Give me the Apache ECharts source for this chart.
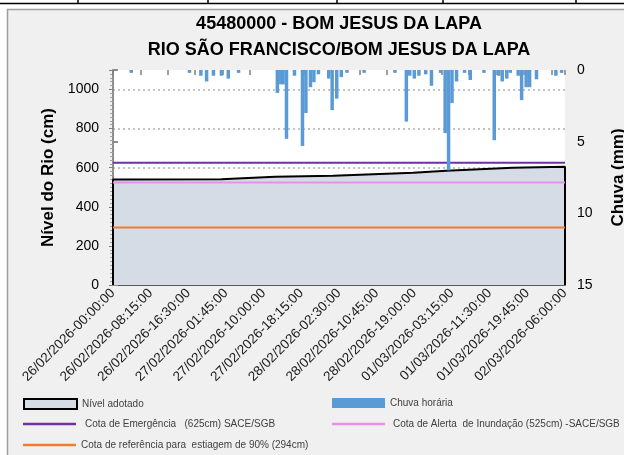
<!DOCTYPE html>
<html>
<head>
<meta charset="utf-8">
<script src="https://cdn.jsdelivr.net/npm/echarts@6/dist/echarts.min.js"></script>
<style>
  html, body { margin: 0; padding: 0; background: #fff; }
  #chart { width: 624px; height: 455px; }
</style>
</head>
<body>
<div id="chart"></div>
<script>
// rótulos do eixo x (um a cada 33 leituras de 15 min)
const xLabels = [
  '26/02/2026-00:00:00', '26/02/2026-08:15:00', '26/02/2026-16:30:00',
  '27/02/2026-01:45:00', '27/02/2026-10:00:00', '27/02/2026-18:15:00',
  '28/02/2026-02:30:00', '28/02/2026-10:45:00', '28/02/2026-19:00:00',
  '01/03/2026-03:15:00', '01/03/2026-11:30:00', '01/03/2026-19:45:00',
  '02/03/2026-06:00:00'
]
const labelStep = 33
const lastIdx = 396

// nível adotado (cm) - posição da leitura e valor
const levelIdx = [0, 95, 142, 193, 263, 292, 350, 396]
const levelCm = [540, 541, 554, 559, 574, 585, 600, 605]

// chuva horária (mm)
const rainIdx = [16, 67, 77, 82, 88, 95, 101, 110, 144, 147, 149, 152, 159, 166, 169, 173, 176, 180,
  189, 192, 196, 200, 205, 220, 247, 257, 260, 264, 268, 274, 279, 287, 291, 294, 297, 301,
  308, 313, 325, 334, 338, 341, 345, 348, 355, 358, 362, 365, 371, 388, 393]
const rainMm = [0.2, 0.2, 0.4, 0.8, 0.4, 0.4, 0.6, 0.2, 1.6, 1.0, 1.0, 4.8, 0.4, 5.3, 3.0, 1.2, 0.85, 0.3,
  0.6, 2.8, 2.0, 0.5, 0.2, 0.2, 0.2, 3.6, 0.4, 0.6, 0.4, 0.3, 1.1, 0.2, 4.4, 7.0, 2.3, 0.8,
  0.2, 0.7, 0.2, 4.9, 0.4, 0.8, 0.6, 0.2, 0.4, 2.1, 1.2, 1.2, 0.65, 0.4, 0.2]

// cotas de referência (cm)
const cotaEmergencia = 625
const cotaAlerta = 525
const cotaEstiagem = 294

const nomeNivel = 'Nível adotado'
const nomeChuva = 'Chuva horária'
const nomeEmerg = 'Cota de Emergência   (625cm) SACE/SGB'
const nomeAlerta = 'Cota de Alerta  de Inundação (525cm) -SACE/SGB'
const nomeEstiagem = 'Cota de referência para  estiagem de 90% (294cm)'

const levelData = [[levelIdx[0], 0]]
levelIdx.forEach((v, i) => levelData.push([v, levelCm[i]]))
levelData.push([levelIdx[levelIdx.length - 1], 0])
const rainData = rainIdx.map((v, i) => [v, rainMm[i]])
const hLine = v => [[0, v], [lastIdx, v]]

const chart = echarts.init(document.getElementById('chart'))
const baseFont = 'Liberation Sans'
const legendText = { fontFamily: baseFont, fontSize: 10, color: '#404040' }
const tableLine = { stroke: '#000', lineWidth: 1.5 }

const option = {
  backgroundColor: '#f0f0f0',
  animation: false,
  graphic: [
    { type: 'rect', shape: { x: 0, y: 0, width: 624, height: 9 }, style: { fill: '#fff' } },
    { type: 'rect', shape: { x: 0, y: 0, width: 7, height: 455 }, style: { fill: '#fff' } },
    { type: 'line', shape: { x1: 0, y1: 3.5, x2: 624, y2: 3.5 }, style: tableLine },
    { type: 'line', shape: { x1: 78, y1: 0, x2: 78, y2: 3.5 }, style: tableLine },
    { type: 'line', shape: { x1: 208, y1: 0, x2: 208, y2: 3.5 }, style: tableLine },
    { type: 'line', shape: { x1: 337, y1: 0, x2: 337, y2: 3.5 }, style: tableLine },
    { type: 'line', shape: { x1: 443, y1: 0, x2: 443, y2: 3.5 }, style: tableLine },
    { type: 'line', shape: { x1: 576, y1: 0, x2: 576, y2: 3.5 }, style: tableLine },
    { type: 'line', shape: { x1: 7, y1: 9.5, x2: 624, y2: 9.5 }, style: { stroke: '#9e9e9e', lineWidth: 1.5 } },
    { type: 'line', shape: { x1: 7.5, y1: 9, x2: 7.5, y2: 455 }, style: { stroke: '#9e9e9e', lineWidth: 1.5 } },
    {
      type: 'text', x: 339, y: 24,
      style: { text: '45480000 - BOM JESUS DA LAPA', align: 'center', verticalAlign: 'middle',
        fontFamily: baseFont, fontWeight: 'bold', fontSize: 18, fill: '#000' }
    },
    {
      type: 'text', x: 339, y: 50,
      style: { text: 'RIO SÃO FRANCISCO/BOM JESUS DA LAPA', align: 'center', verticalAlign: 'middle',
        fontFamily: baseFont, fontWeight: 'bold', fontSize: 18, fill: '#000' }
    }
  ],
  grid: {
    left: 113, right: 59, top: 70, bottom: 170,
    outerBoundsMode: 'none', containLabel: false,
    show: true, backgroundColor: '#fff', borderWidth: 0
  },
  legend: [
    {
      left: 18, top: 393, itemWidth: 53, itemHeight: 10, selectedMode: false, textStyle: legendText,
      data: [{ name: nomeNivel, icon: 'rect', itemStyle: { color: '#d6dce5', borderColor: '#000', borderWidth: 2 } }]
    },
    {
      left: 327, top: 393, itemWidth: 53, itemHeight: 10, selectedMode: false, textStyle: legendText,
      data: [{ name: nomeChuva, icon: 'rect' }]
    },
    {
      left: 18, top: 414, itemWidth: 53, itemHeight: 2.5, selectedMode: false,
      textStyle: Object.assign({ padding: [0, 0, 0, 4] }, legendText),
      data: [{ name: nomeEmerg, icon: 'rect' }]
    },
    {
      left: 327, top: 414, itemWidth: 53, itemHeight: 2.5, selectedMode: false,
      textStyle: Object.assign({ padding: [0, 0, 0, 3] }, legendText),
      data: [{ name: nomeAlerta, icon: 'rect' }]
    },
    {
      left: 18, top: 435, itemWidth: 53, itemHeight: 2.5, selectedMode: false, textStyle: legendText,
      data: [{ name: nomeEstiagem, icon: 'rect' }]
    }
  ],
  xAxis: [
    {
      type: 'value', min: 0, max: lastIdx, interval: labelStep,
      axisLine: { lineStyle: { color: '#595959', width: 2 } },
      axisTick: { show: false },
      splitLine: { show: false },
      axisLabel: {
        rotate: 45, margin: 6, fontFamily: baseFont, fontSize: 13.5, color: '#1a1a1a',
        formatter: v => xLabels[Math.round(v / labelStep)] || ''
      }
    },
    {
      // só as marcas do eixo (a cada 24 leituras)
      type: 'value', min: 0, max: lastIdx, interval: 24, position: 'bottom',
      axisLine: { show: false },
      axisTick: { show: true, length: 5, lineStyle: { color: '#808080', width: 1.5 } },
      axisLabel: { show: false },
      splitLine: { show: false }
    }
  ],
  yAxis: [
    {
      type: 'value', min: 0, max: 1100, interval: 200,
      name: 'Nível do Rio (cm)', nameLocation: 'middle', nameRotate: 90, nameGap: 54,
      nameTextStyle: { fontFamily: baseFont, fontWeight: 'bold', fontSize: 17, color: '#000' },
      axisLine: { show: true, lineStyle: { color: '#b0b0b0', width: 1.5 } },
      axisTick: { show: true, length: 4, lineStyle: { color: '#808080' } },
      minorTick: { show: true, splitNumber: 10, length: 3, lineStyle: { color: '#a0a0a0' } },
      axisLabel: { fontFamily: baseFont, fontSize: 14, color: '#000', margin: 14, showMaxLabel: false,
        formatter: v => String(v) },
      splitLine: { show: true, showMaxLine: false, lineStyle: { color: '#c4c4c4', width: 2, type: [2, 3] } }
    },
    {
      type: 'value', min: 0, max: 15, interval: 5, inverse: true, position: 'right',
      name: 'Chuva (mm)', nameLocation: 'middle', nameRotate: 90, nameGap: 45,
      nameTextStyle: { fontFamily: baseFont, fontWeight: 'bold', fontSize: 17, color: '#000' },
      axisLine: { show: true, lineStyle: { color: '#8c8c8c', width: 2 } },
      axisTick: { show: true, length: 5, lineStyle: { color: '#8c8c8c', width: 2 } },
      axisLabel: { fontFamily: baseFont, fontSize: 14, color: '#000', margin: 12 },
      splitLine: { show: false }
    }
  ],
  series: [
    {
      name: nomeNivel, type: 'line', xAxisIndex: 0, yAxisIndex: 0, data: levelData,
      symbol: 'none', z: 2,
      lineStyle: { color: '#000', width: 2 },
      itemStyle: { color: '#d6dce5' },
      areaStyle: { color: '#d6dce5', opacity: 1 }
    },
    {
      name: nomeEmerg, type: 'line', xAxisIndex: 0, yAxisIndex: 0, data: hLine(cotaEmergencia),
      symbol: 'none', z: 3, color: '#7030a0', lineStyle: { color: '#7030a0', width: 2 }
    },
    {
      name: nomeAlerta, type: 'line', xAxisIndex: 0, yAxisIndex: 0, data: hLine(cotaAlerta),
      symbol: 'none', z: 3, color: '#e98ee9', lineStyle: { color: '#e98ee9', width: 2 }
    },
    {
      name: nomeEstiagem, type: 'line', xAxisIndex: 0, yAxisIndex: 0, data: hLine(cotaEstiagem),
      symbol: 'none', z: 3, color: '#ed7d31', lineStyle: { color: '#ed7d31', width: 2 }
    },
    {
      name: nomeChuva, type: 'bar', xAxisIndex: 0, yAxisIndex: 1, data: rainData,
      barWidth: 3.5, z: 5, itemStyle: { color: '#5b9bd5' }
    }
  ]
}
chart.setOption(option)
</script>
</body>
</html>
